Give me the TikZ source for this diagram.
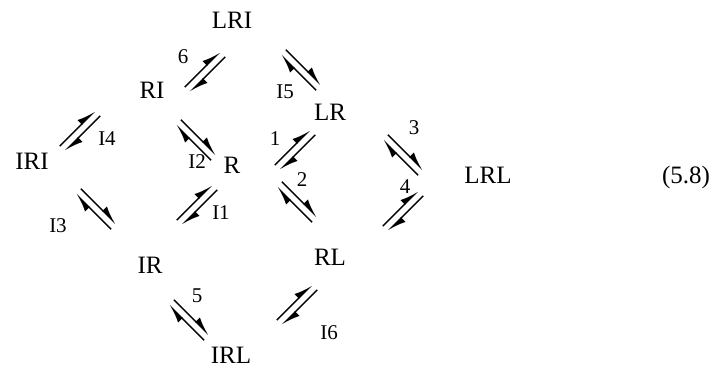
\documentclass[tikz,border=0pt]{standalone}
\usepackage{fontspec}
\setmainfont{Liberation Serif}
\usetikzlibrary{arrows.meta}
\tikzset{
  state/.style={font=\fontsize{25}{30}\selectfont, inner sep=0pt},
  lab/.style={font=\fontsize{21}{25}\selectfont, inner sep=0pt},
  harp/.style={line width=1.5pt, -{Latex[harpoon,length=16pt,width=12pt]}},
  % a pair of opposed harpoons (equilibrium arrow)
  eqharp/.pic={
    \draw[harp] (-25,3.6) -- (25,3.6);
    \draw[harp] (25,-3.6) -- (-25,-3.6);
  }
}
\begin{document}
\begin{tikzpicture}[x=1pt,y=1pt]
\useasboundingbox (0,0) rectangle (722,376);

% states
\node[state] (LRI) at (232,356) {LRI};
\node[state] (RI)  at (152,286) {RI};
\node[state] (LR)  at (330,264) {LR};
\node[state] (IRI) at (32,215)  {IRI};
\node[state] (R)   at (232,211) {R};
\node[state] (LRL) at (488,201) {LRL};
\node[state] (IR)  at (150,111) {IR};
\node[state] (RL)  at (330,119) {RL};
\node[state] (IRL) at (231,21)  {IRL};
\node[state] (eqno) at (686,199) {(5.8)};

% equilibrium arrows
\pic[rotate=45]  at (205,304) {eqharp};
\pic[rotate=-45] at (301,306) {eqharp};
\pic[rotate=45]  at (80,245)  {eqharp};
\pic[rotate=-45] at (196,236) {eqharp};
\pic[rotate=45]  at (295,226) {eqharp};
\pic[rotate=-45] at (403,221) {eqharp};
\pic[rotate=-45] at (96,167)  {eqharp};
\pic[rotate=45]  at (197,171) {eqharp};
\pic[rotate=-45] at (297,174) {eqharp};
\pic[rotate=45]  at (403,165) {eqharp};
\pic[rotate=-45] at (189,56)  {eqharp};
\pic[rotate=45]  at (297,71)  {eqharp};

% step labels
\node[lab] (l6)  at (183,319) {6};
\node[lab] (lI5) at (285,284) {I5};
\node[lab] (lI4) at (107,237) {I4};
\node[lab] (lI2) at (197,214) {I2};
\node[lab] (l1)  at (275,237) {1};
\node[lab] (l3)  at (414,248) {3};
\node[lab] (lI3) at (58,150)  {I3};
\node[lab] (lI1) at (221,163) {I1};
\node[lab] (l2)  at (302,196) {2};
\node[lab] (l4)  at (405,189) {4};
\node[lab] (l5)  at (197,80)  {5};
\node[lab] (lI6) at (329,43)  {I6};
\end{tikzpicture}
\end{document}
